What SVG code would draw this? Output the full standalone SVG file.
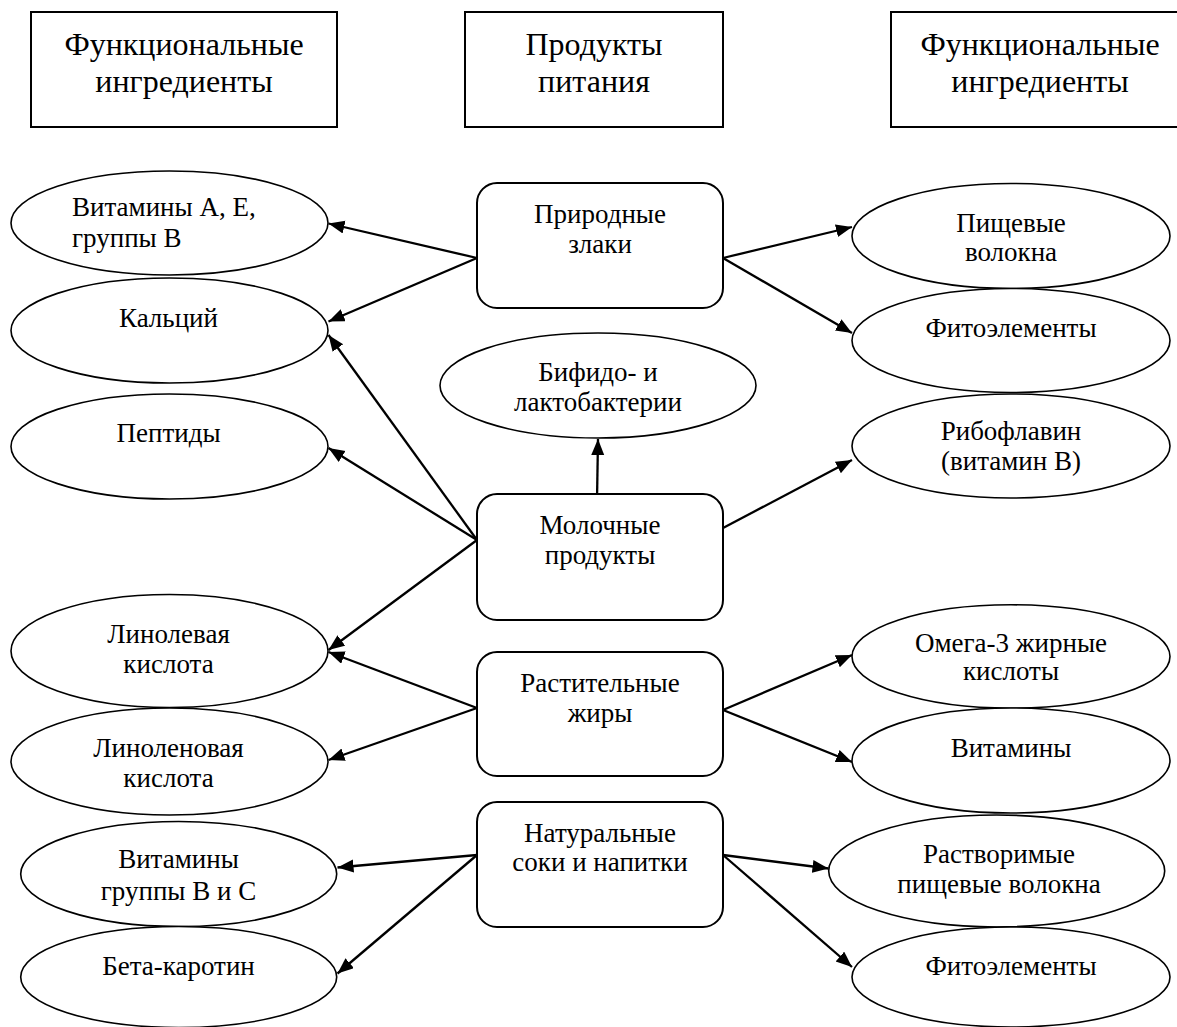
<svg xmlns="http://www.w3.org/2000/svg" width="1177" height="1027" viewBox="0 0 1177 1027">
<style>
.hdr{fill:#fff;stroke:#000;stroke-width:2}
.box{fill:#fff;stroke:#000;stroke-width:2}
.ell{fill:#fff;stroke:#000;stroke-width:1.6}
text{font-family:'Liberation Serif','DejaVu Serif',serif;fill:#000;text-anchor:middle}
.ht{font-size:32px}
.t{font-size:27px}
.con line{stroke:#000;stroke-width:2.3;marker-end:url(#ah)}
</style>
<defs>
<marker id="ah" markerUnits="userSpaceOnUse" markerWidth="18" markerHeight="14" refX="16" refY="6.5" orient="auto">
<path d="M0,0 L16,6.5 L0,13 z" fill="#000"/>
</marker>
</defs>
<rect width="1177" height="1027" fill="#fff"/>
<g id="hdr-left"><rect class="hdr" x="31" y="12" width="306" height="115"/><text class="ht" x="184" y="55">Функциональные</text><text class="ht" x="184" y="92">ингредиенты</text></g>
<g id="hdr-center"><rect class="hdr" x="465" y="12" width="258" height="115"/><text class="ht" x="594" y="55">Продукты</text><text class="ht" x="594" y="92">питания</text></g>
<g id="hdr-right"><rect class="hdr" x="891" y="12" width="300" height="115"/><text class="ht" x="1040" y="55">Функциональные</text><text class="ht" x="1040" y="92">ингредиенты</text></g>

<g class="con" id="connectors">
<line x1="477" y1="258" x2="328.5" y2="223.5"/>
<line x1="477" y1="258" x2="328.5" y2="321.5"/>
<line x1="477" y1="540" x2="328.5" y2="335"/>
<line x1="477" y1="540" x2="328.5" y2="448"/>
<line x1="477" y1="540" x2="328.5" y2="650"/>
<line x1="477" y1="708" x2="328.5" y2="652"/>
<line x1="477" y1="708" x2="328.5" y2="760"/>
<line x1="477" y1="855" x2="337.5" y2="867.5"/>
<line x1="477" y1="855" x2="337.5" y2="973.5"/>
<line x1="723" y1="258" x2="852" y2="227"/>
<line x1="723" y1="258" x2="852" y2="333"/>
<line x1="723" y1="528" x2="852" y2="460"/>
<line x1="723" y1="710" x2="852" y2="655"/>
<line x1="723" y1="710" x2="852" y2="762"/>
<line x1="723" y1="855" x2="828.5" y2="868.5"/>
<line x1="723" y1="855" x2="852" y2="967"/>
<line x1="597" y1="500" x2="598" y2="439"/>
</g>

<g id="n-zlaki"><rect class="box" x="477" y="183" width="246" height="125" rx="20"/><text class="t" x="600" y="223">Природные</text><text class="t" x="600" y="253">злаки</text></g>
<g id="n-bifido"><ellipse class="ell" cx="598" cy="385.5" rx="158" ry="52.5"/><text class="t" x="598" y="381">Бифидо- и</text><text class="t" x="598" y="411">лактобактерии</text></g>
<g id="n-moloch"><rect class="box" x="477" y="494" width="246" height="126" rx="20"/><text class="t" x="600" y="534">Молочные</text><text class="t" x="600" y="564">продукты</text></g>
<g id="n-rast"><rect class="box" x="477" y="652" width="246" height="124" rx="20"/><text class="t" x="600" y="692">Растительные</text><text class="t" x="600" y="722">жиры</text></g>
<g id="n-nat"><rect class="box" x="477" y="802" width="246" height="125" rx="20"/><text class="t" x="600" y="842">Натуральные</text><text class="t" x="600" y="871">соки и напитки</text></g>

<g id="l-vitae"><ellipse class="ell" cx="169.5" cy="223" rx="158.5" ry="52"/><text class="t" x="72" y="216" style="text-anchor:start">Витамины А, Е,</text><text class="t" x="72" y="247" style="text-anchor:start">группы В</text></g>
<g id="l-calc"><ellipse class="ell" cx="169.5" cy="330.5" rx="158.5" ry="52.5"/><text class="t" x="168.5" y="327">Кальций</text></g>
<g id="l-pept"><ellipse class="ell" cx="169.5" cy="446.5" rx="158.5" ry="52.5"/><text class="t" x="168.5" y="442">Пептиды</text></g>
<g id="l-linol"><ellipse class="ell" cx="169.5" cy="651" rx="158.5" ry="56.5"/><text class="t" x="168.5" y="643">Линолевая</text><text class="t" x="168.5" y="673">кислота</text></g>
<g id="l-linolen"><ellipse class="ell" cx="169.5" cy="761.5" rx="158.5" ry="53.5"/><text class="t" x="168.5" y="757">Линоленовая</text><text class="t" x="168.5" y="787">кислота</text></g>
<g id="l-vitbc"><ellipse class="ell" cx="178.7" cy="874" rx="158" ry="52.5"/><text class="t" x="178.5" y="868">Витамины</text><text class="t" x="178.5" y="900">группы В и С</text></g>
<g id="l-beta"><ellipse class="ell" cx="178.7" cy="977" rx="158" ry="50.5"/><text class="t" x="178.5" y="975">Бета-каротин</text></g>

<g id="r-fiber"><ellipse class="ell" cx="1011" cy="236" rx="159" ry="52.5"/><text class="t" x="1011" y="232">Пищевые</text><text class="t" x="1011" y="261">волокна</text></g>
<g id="r-phyto1"><ellipse class="ell" cx="1011" cy="340.5" rx="159" ry="52"/><text class="t" x="1011" y="337">Фитоэлементы</text></g>
<g id="r-ribo"><ellipse class="ell" cx="1011" cy="446" rx="159" ry="52"/><text class="t" x="1011" y="440">Рибофлавин</text><text class="t" x="1011" y="470">(витамин В)</text></g>
<g id="r-omega"><ellipse class="ell" cx="1011" cy="656.5" rx="159" ry="51.7"/><text class="t" x="1011" y="652">Омега-3 жирные</text><text class="t" x="1011" y="680">кислоты</text></g>
<g id="r-vit"><ellipse class="ell" cx="1011" cy="760.5" rx="159" ry="52.5"/><text class="t" x="1011" y="757">Витамины</text></g>
<g id="r-solfiber"><ellipse class="ell" cx="996.7" cy="871" rx="168" ry="56"/><text class="t" x="999" y="863">Растворимые</text><text class="t" x="999" y="893">пищевые волокна</text></g>
<g id="r-phyto2"><ellipse class="ell" cx="1011" cy="977" rx="159" ry="50"/><text class="t" x="1011" y="975">Фитоэлементы</text></g>
</svg>
